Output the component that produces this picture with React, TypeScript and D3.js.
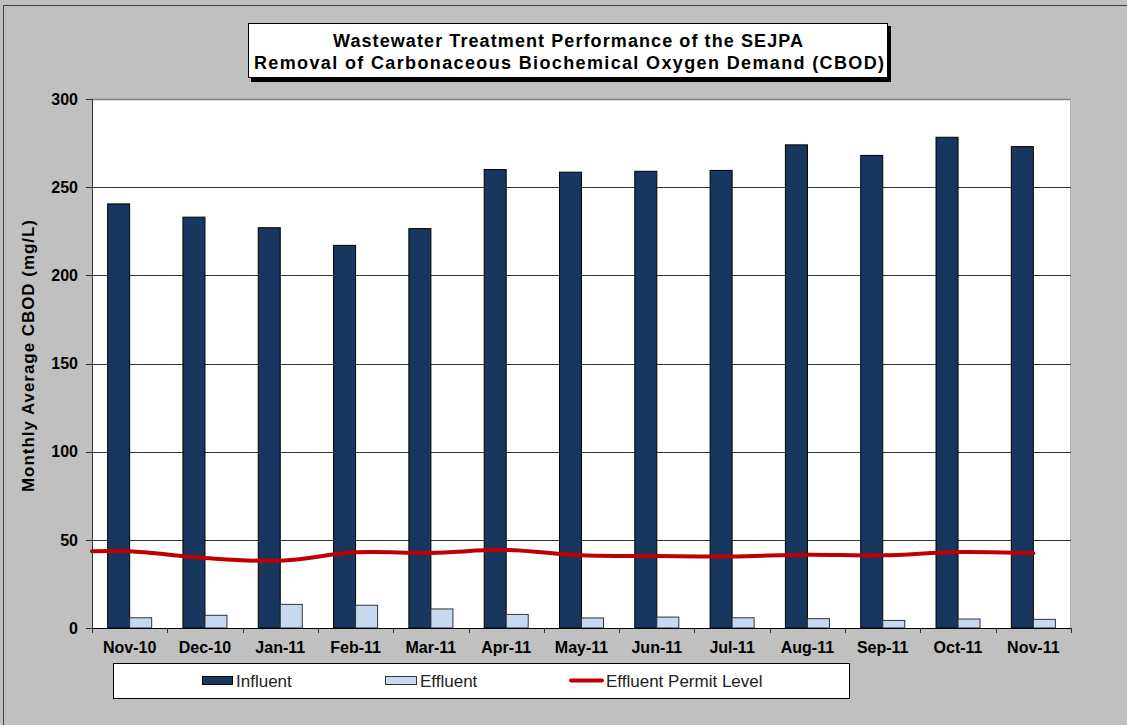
import React from 'react';
import * as d3 from 'd3';

// monthly averages (mg/L)
const months = ['Nov-10', 'Dec-10', 'Jan-11', 'Feb-11', 'Mar-11', 'Apr-11', 'May-11', 'Jun-11', 'Jul-11', 'Aug-11', 'Sep-11', 'Oct-11', 'Nov-11'];
const influent = [240.5, 233, 227, 217, 226.5, 260, 258.5, 259, 259.5, 274, 268, 278.3, 273];
const effluent = [5.8, 7.2, 13.4, 12.9, 10.8, 7.7, 5.7, 6.2, 5.8, 5.3, 4.3, 5.1, 4.9];
const permitLevel = [43.5, 39.7, 38.2, 42.9, 42.6, 44.3, 41.2, 40.8, 40.6, 41.6, 41.2, 43.1, 42.4];
const yTicks = [0, 50, 100, 150, 200, 250, 300];

const W = 1127;
const H = 725;
const margin = { top: 99, right: 56, bottom: 97, left: 92 };
const FONT = '"Liberation Sans", Arial, Helvetica, sans-serif';

const INFLUENT_FILL = '#17375E';
const EFFLUENT_FILL = '#C6D9F1';
const PERMIT_RED = '#C00000';

export default function App() {
    const plotW = W - margin.left - margin.right;
    const plotH = H - margin.top - margin.bottom;

    const x = d3.scaleBand<string>()
        .domain(months)
        .range([margin.left, margin.left + plotW]);

    const y = d3.scaleLinear()
        .domain([0, 300])
        .range([margin.top + plotH, margin.top]);

    // excel-ish gap width: two bars per category, gap ~1.42 bar widths
    const barW = x.bandwidth() / 3.42;
    const groupOffset = (x.bandwidth() - barW * 2) / 2;

    // the permit line runs in from the left edge of the plot
    const permitPts: [number, number][] = [
        [x.range()[0], y(permitLevel[0])],
        ...months.map((m, i) => [x(m)! + x.bandwidth() / 2, y(permitLevel[i])] as [number, number])
    ];
    const permitPath = d3.line().curve(d3.curveCatmullRom.alpha(0.5))(permitPts) || '';

    const x0 = margin.left;
    const x1 = margin.left + plotW;
    const y0 = margin.top + plotH;

    // legend geometry
    const lg = { x: 113, y: 663, w: 736, h: 35 };
    const lgMid = lg.y + lg.h / 2;

    return (
        <svg width={W} height={H} style={{ position: 'absolute', left: 0, top: 0, fontFamily: FONT }}>
            <rect x={0} y={0} width={W} height={H} fill="#C0C0C0" />
            <rect x={3.5} y={5.5} width={W + 20} height={H + 20} fill="none" stroke="#404040" strokeWidth={1} />

            {/* title box with shadow */}
            <rect x={251} y={26} width={640} height={56} fill="#000" />
            <rect x={248.5} y={23.5} width={639} height={54} fill="#fff" stroke="#000" strokeWidth={1} />
            <text x={568} y={47} textAnchor="middle" fontSize={18} fontWeight="bold" fill="#000"
                textLength={470} lengthAdjust="spacing">
                Wastewater Treatment Performance of the SEJPA
            </text>
            <text x={569} y={69} textAnchor="middle" fontSize={18} fontWeight="bold" fill="#000"
                textLength={630} lengthAdjust="spacing">
                Removal of Carbonaceous Biochemical Oxygen Demand (CBOD)
            </text>

            {/* plot area */}
            <rect x={x0} y={margin.top} width={plotW} height={plotH} fill="#fff" />
            <line x1={x0} x2={x1} y1={margin.top + 0.5} y2={margin.top + 0.5} stroke="#808080" strokeWidth={1.5} />
            <line x1={x1 - 0.5} x2={x1 - 0.5} y1={margin.top} y2={y0} stroke="#B0B0B0" strokeWidth={1} />

            {/* gridlines + y ticks */}
            {yTicks.map(t => (
                <g key={t}>
                    {t > 0 && t < 300 && (
                        <line x1={x0} x2={x1} y1={Math.round(y(t)) + 0.5} y2={Math.round(y(t)) + 0.5} stroke="#333" strokeWidth={1} />
                    )}
                    <line x1={x0 - 6} x2={x0} y1={Math.round(y(t)) + 0.5} y2={Math.round(y(t)) + 0.5} stroke="#333" strokeWidth={1} />
                    <text x={78} y={y(t)} dy="0.36em" textAnchor="end" fontSize={16} fontWeight="bold" fill="#000">{t}</text>
                </g>
            ))}

            {/* bars */}
            {months.map((m, i) => {
                const bx = x(m)! + groupOffset;
                return (
                    <g key={m}>
                        <rect x={bx} y={y(influent[i])} width={barW} height={y0 - y(influent[i])}
                            fill={INFLUENT_FILL} stroke="#000" strokeWidth={1} />
                        <rect x={bx + barW} y={y(effluent[i])} width={barW} height={y0 - y(effluent[i])}
                            fill={EFFLUENT_FILL} stroke="#333" strokeWidth={1} />
                    </g>
                );
            })}

            {/* permit level line */}
            <path d={permitPath} fill="none" stroke={PERMIT_RED} strokeWidth={4} strokeLinecap="round" />

            {/* axes */}
            <line x1={x0 + 0.5} x2={x0 + 0.5} y1={margin.top} y2={y0} stroke="#333" strokeWidth={1} />
            <line x1={x0} x2={x1} y1={Math.round(y0) + 0.5} y2={Math.round(y0) + 0.5} stroke="#000" strokeWidth={1.2} />
            {[...months.map(m => x(m)!), x1].map((tx, i) => (
                <line key={i} x1={Math.round(tx) + 0.5} x2={Math.round(tx) + 0.5} y1={y0} y2={y0 + 5} stroke="#333" strokeWidth={1} />
            ))}
            {months.map(m => (
                <text key={m} x={x(m)! + x.bandwidth() / 2} y={653} textAnchor="middle" fontSize={16} fontWeight="bold" fill="#000">{m}</text>
            ))}

            {/* y axis title */}
            <text transform={`translate(34,356) rotate(-90)`} textAnchor="middle"
                fontSize={17} fontWeight="bold" fill="#000" textLength={272} lengthAdjust="spacing">
                Monthly Average CBOD (mg/L)
            </text>

            {/* legend */}
            <rect x={lg.x + 0.5} y={lg.y + 0.5} width={lg.w} height={lg.h} fill="#fff" stroke="#000" strokeWidth={1} />
            <rect x={202.5} y={lgMid - 4} width={30} height={8} fill={INFLUENT_FILL} stroke="#000" strokeWidth={1} />
            <text x={236} y={lgMid} dy="0.36em" fontSize={17} fill="#222">Influent</text>
            <rect x={385.5} y={lgMid - 4} width={31} height={8} fill={EFFLUENT_FILL} stroke="#333" strokeWidth={1} />
            <text x={420} y={lgMid} dy="0.36em" fontSize={17} fill="#222">Effluent</text>
            <line x1={571} x2={602} y1={lgMid} y2={lgMid} stroke={PERMIT_RED} strokeWidth={4} strokeLinecap="round" />
            <text x={606} y={lgMid} dy="0.36em" fontSize={17} fill="#222">Effluent Permit Level</text>
        </svg>
    );
}
